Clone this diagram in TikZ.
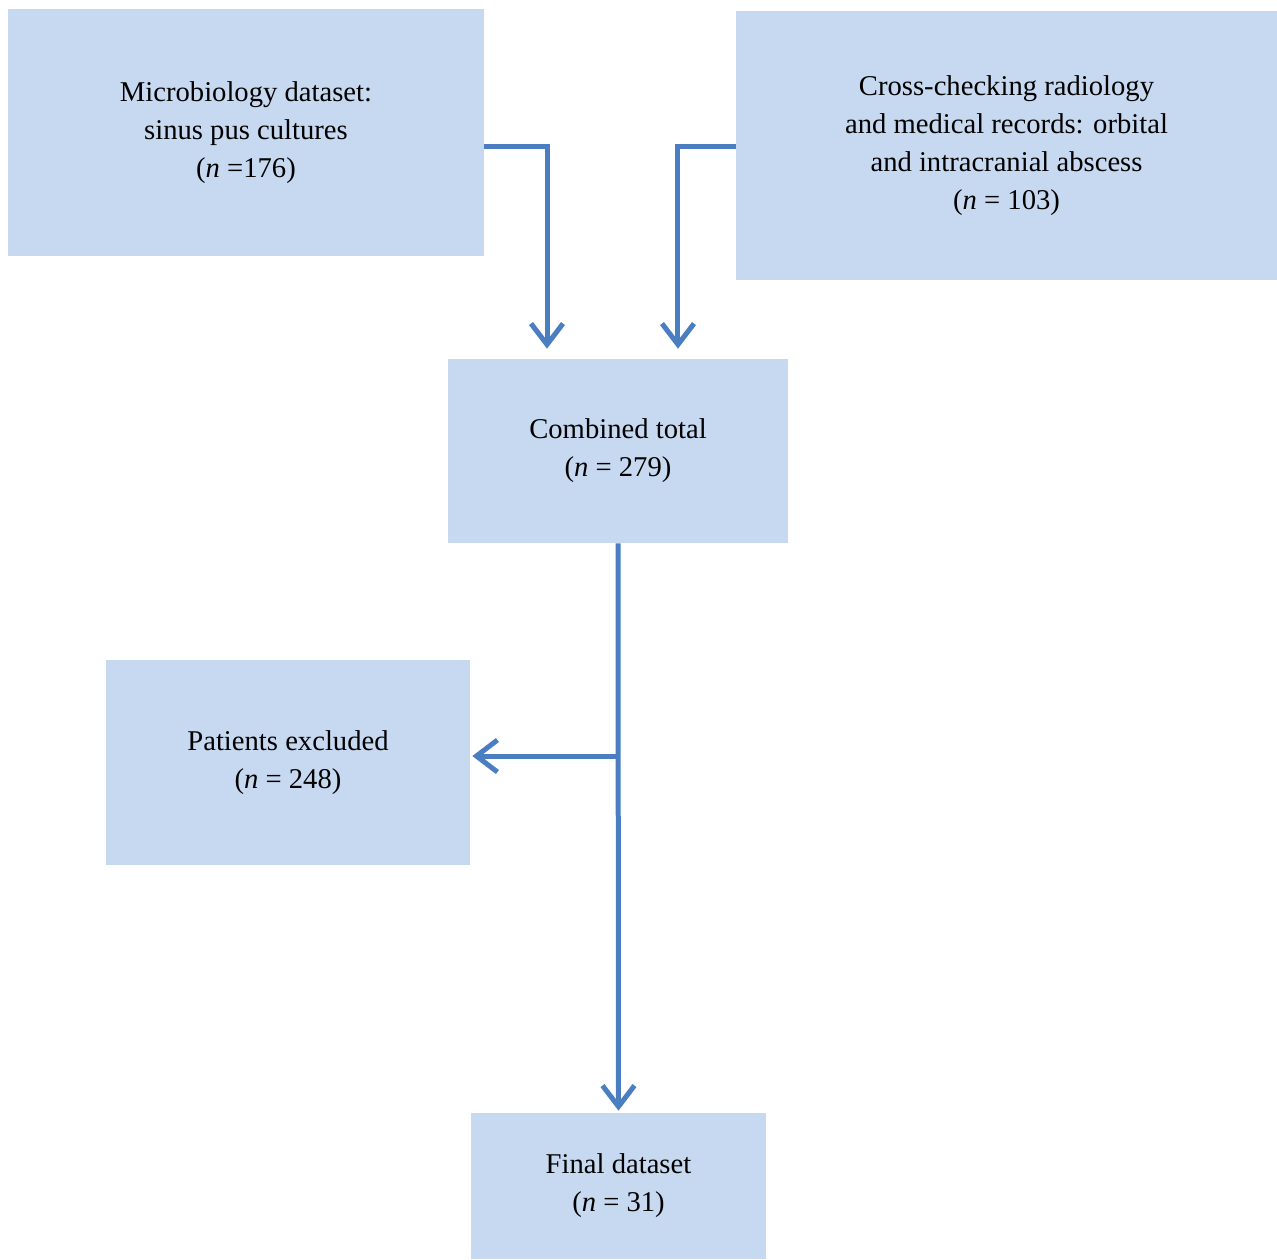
\documentclass[tikz,border=0pt]{standalone}
\usepackage{fontspec}
\setmainfont{Liberation Serif}
\usetikzlibrary{positioning, arrows.meta}
\definecolor{boxblue}{HTML}{C6D9F0}
\definecolor{lineblue}{HTML}{4A7EC1}

\begin{document}
\begin{tikzpicture}
    [
        x=0.02cm, y=-0.02cm,
        blue_box/.style={rectangle, fill=boxblue, draw=none, align=center, inner sep=0pt, font=\fontsize{16.3}{21.6}\selectfont},
        flow/.style={lineblue, line width=0.1cm, -{Straight Barb[length=4.2mm, width=6.4mm, line width=0.1cm]}},
    ]
        \useasboundingbox (0,0) rectangle (1277,1259);
        \node[blue_box, minimum width=9.52cm, minimum height=4.94cm] (micro) at (246,132.5) {Microbiology dataset:\\sinus pus cultures\\(\textit{n} =176)} ;
        \node[blue_box, minimum width=10.82cm, minimum height=5.4cm] (cross) at (1006.5,145.5) {Cross-checking radiology\\and medical records: orbital\\and intracranial abscess\\(\textit{n} = 103)} ;
        \node[blue_box, minimum width=6.8cm, minimum height=3.68cm] (total) at (618,451) {Combined total\\(\textit{n} = 279)} ;
        \node[blue_box, minimum width=7.28cm, minimum height=4.1cm] (excluded) at (288,762.5) {Patients excluded\\(\textit{n} = 248)} ;
        \node[blue_box, minimum width=5.9cm, minimum height=2.92cm] (final) at (618.5,1186) {Final dataset\\(\textit{n} = 31)} ;
        \coordinate (branch) at (618,756) ;
        \draw[flow] (micro.east |- 0,146) -| ([xshift=-1.42cm, yshift=0.2cm]total.north) ;
        \draw[flow] (cross.west |- 0,146) -| ([xshift=1.2cm, yshift=0.2cm]total.north) ;
        \draw[flow] (total.south) -- ([yshift=0.04cm]final.north) ;
        \draw[flow] (branch) -- ([xshift=0.04cm]excluded.east |- branch) ;
    \end{tikzpicture}
\end{document}
